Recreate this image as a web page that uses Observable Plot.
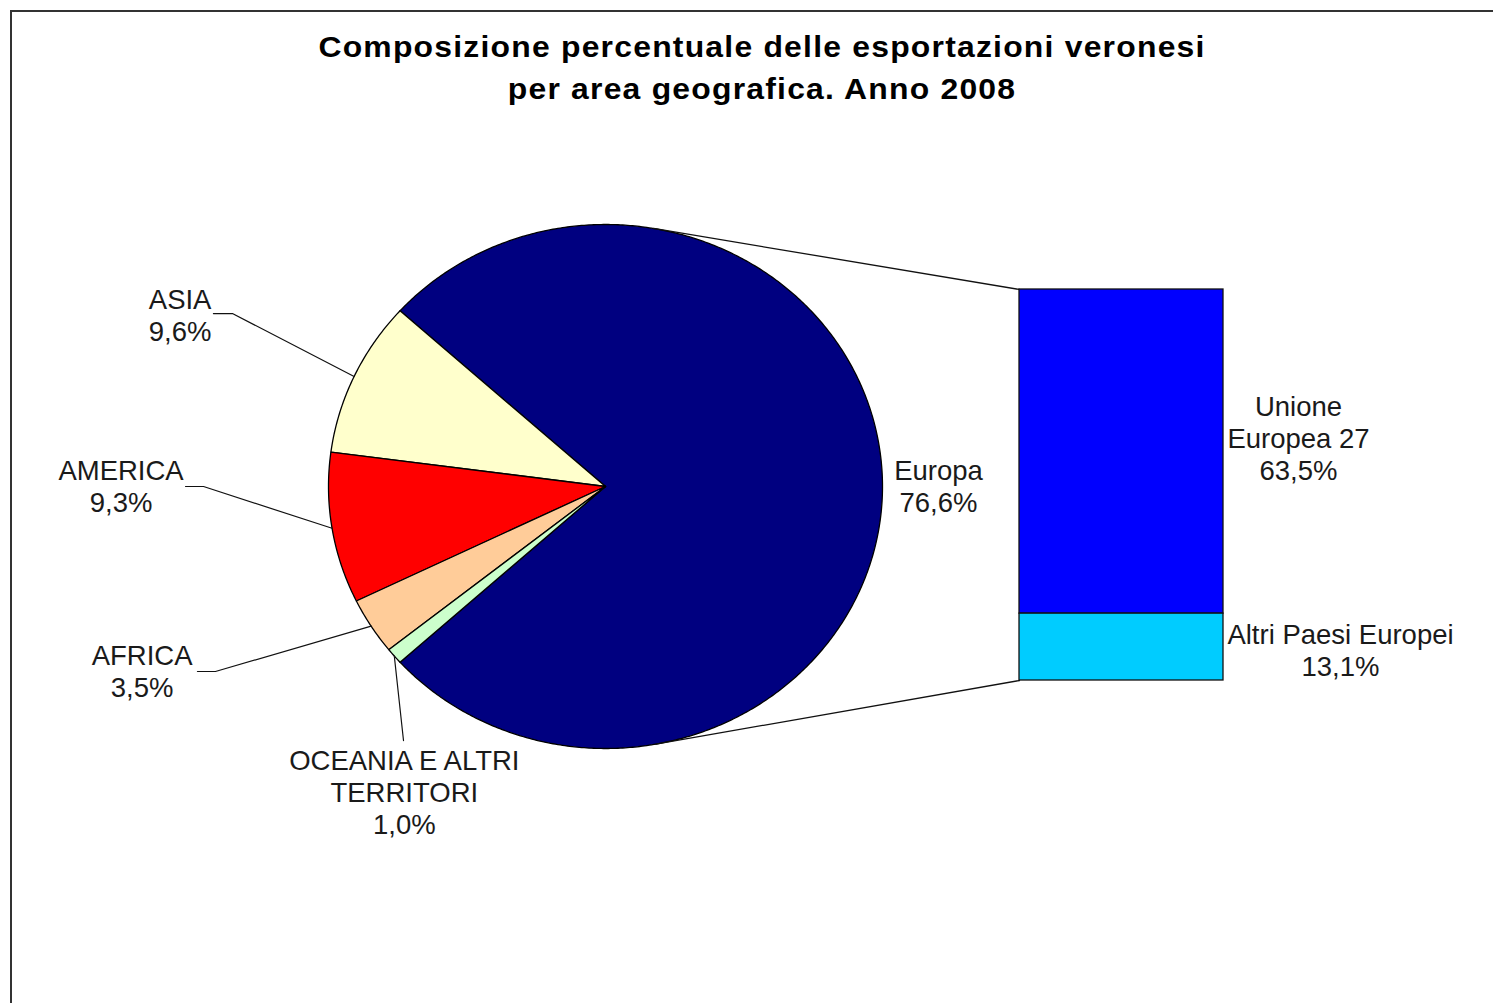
<!DOCTYPE html>
<html><head><meta charset="utf-8">
<script src="https://cdn.jsdelivr.net/npm/d3@7"></script>
<script src="https://cdn.jsdelivr.net/npm/@observablehq/plot@0.6"></script>
<style>
body{margin:0;background:#fff;width:1493px;height:1003px;overflow:hidden;position:relative;font-family:"Liberation Sans",Arial,sans-serif;}
#frame{position:absolute;left:10px;top:10px;width:1600px;height:1100px;border-top:2px solid #333;border-left:2px solid #333;}
#title{position:absolute;left:0;width:1524px;top:26px;text-align:center;font-weight:bold;font-size:29px;letter-spacing:1.1px;line-height:42px;color:#000;transform:scaleX(1.1);transform-origin:762px 0;}
#chart{position:absolute;left:0;top:120px;}
</style></head><body>
<div id="frame"></div>
<div id="title">Composizione percentuale delle esportazioni veronesi<br>per area geografica. Anno 2008</div>
<div id="chart"></div>
<script>
// ---- data ----
const regions = ["Europa", "ASIA", "AMERICA", "AFRICA", "OCEANIA E ALTRI TERRITORI"];
const regionLabels = ["Europa", "ASIA", "AMERICA", "AFRICA", "OCEANIA E ALTRI\nTERRITORI"];
const regionShares = [76.6, 9.6, 9.3, 3.5, 1.0];
const regionColors = ["#000080", "#FFFFCC", "#FF0000", "#FFCC99", "#CCFFCC"];
const europeParts = ["Unione Europea 27", "Altri Paesi Europei"];
const europeLabels = ["Unione\nEuropea 27", "Altri Paesi Europei"];
const europeShares = [63.5, 13.1];
const europeColors = ["#0000FF", "#00CCFF"];

// ---- layout (pixels) ----
const W = 1493, H = 883;
const CX = 605, CY = 366, RX = 277, RY = 262;
const BAR = {x0: 1019, x1: 1223, top: 169, bottom: 560};
// label offsets relative to anchor (px): text centre and leader elbow/end
const regionLabelOff = [
  {tx: 56, ty: -1},
  {tx: -174, ty: -62, ex: -121.7, ey: -62.9, hx: -140.7},
  {tx: -211, ty: -43, ex: -128.5, ey: -41.8, hx: -146.5},
  {tx: -229, ty: 45, ex: -155.7, ey: 45.3, hx: -173.7},
  {tx: 10, ty: 136, ex: 9.2, ey: 84.5, hx: 9.2}
];
const europeLabelOff = [{tx: 75, ty: -14}, {tx: 117, ty: 3}];

const ux = px => px / RX;          // pixel offset -> data units
const uy = py => -py / RY;
const fmt = v => v.toFixed(1).replace(".", ",") + "%";
const rad = d => d * Math.PI / 180;

// ---- pie angles (Excel pie-of-bar: "others" centred on the left) ----
const others = d3.sum(regionShares.slice(1));
let a = 180 - others * 3.6 / 2;
const slices = [];
for (let i = 1; i < regions.length; i++) {
  const a0 = a, a1 = a + regionShares[i] * 3.6;
  slices.push({i, a0, a1});
  a = a1;
}
slices.unshift({i: 0, a0: a, a1: a + regionShares[0] * 3.6});

function slicePoints(s) {
  const pts = [{x: 0, y: 0}];
  const n = Math.max(2, Math.ceil((s.a1 - s.a0) / 0.5));
  for (let k = 0; k <= n; k++) {
    const t = rad(s.a0 + (s.a1 - s.a0) * k / n);
    pts.push({x: Math.cos(t), y: Math.sin(t)});
  }
  pts.push({x: 0, y: 0});
  return pts;
}

// ---- bar ----
const bx0 = ux(BAR.x0 - CX), bx1 = ux(BAR.x1 - CX);
const bTop = (CY - BAR.top) / RY, bBottom = (CY - BAR.bottom) / RY;
const unit = (bTop - bBottom) / d3.sum(europeShares);
let yy = bTop;
const barData = europeParts.map((p, i) => {
  const y1 = yy, y2 = yy - europeShares[i] * unit;
  yy = y2;
  return {name: p, y1, y2, color: europeColors[i]};
});

// ---- connector tangents from bar corners ----
function tangent(px, py, sign) {
  const r = Math.hypot(px, py), phi = Math.atan2(py, px);
  const t = phi + sign * Math.acos(1 / r);
  return {x: Math.cos(t), y: Math.sin(t)};
}
const tTop = tangent(bx0, bTop, 1), tBot = tangent(bx0, bBottom, -1);
const connectors = [
  {g: "top", x: tTop.x, y: tTop.y}, {g: "top", x: bx0, y: bTop},
  {g: "bot", x: tBot.x, y: tBot.y}, {g: "bot", x: bx0, y: bBottom}
];

// ---- labels and leaders ----
const textData = [], leaders = [];
slices.forEach(s => {
  const m = rad((s.a0 + s.a1) / 2);
  const ax = Math.cos(m), ay = Math.sin(m);
  const o = regionLabelOff[s.i];
  textData.push({x: ax + ux(o.tx), y: ay + uy(o.ty), text: regionLabels[s.i] + "\n" + fmt(regionShares[s.i])});
  if (o.ex !== undefined) {
    leaders.push({g: s.i, x: ax, y: ay});
    leaders.push({g: s.i, x: ax + ux(o.ex), y: ay + uy(o.ey)});
    leaders.push({g: s.i, x: ax + ux(o.hx), y: ay + uy(o.ey)});
  }
});
barData.forEach((b, i) => {
  const o = europeLabelOff[i];
  const ay = (b.y1 + b.y2) / 2;
  textData.push({x: bx1 + ux(o.tx), y: ay + uy(o.ty), text: europeLabels[i] + "\n" + fmt(europeShares[i])});
});

const marks = [];
slices.forEach(s => {
  marks.push(Plot.line(slicePoints(s), {x: "x", y: "y", fill: regionColors[s.i], stroke: "#000", strokeWidth: 1.3, curve: "linear"}));
});
marks.push(Plot.line(connectors, {x: "x", y: "y", z: "g", stroke: "#111", strokeWidth: 1.3}));
marks.push(Plot.rect(barData, {x1: () => bx0, x2: () => bx1, y1: "y1", y2: "y2", fill: "color", stroke: "#111", strokeWidth: 1.3}));
marks.push(Plot.line(leaders, {x: "x", y: "y", z: "g", stroke: "#111", strokeWidth: 1.2}));
marks.push(Plot.text(textData, {x: "x", y: "y", text: "text", fontSize: 27.5, lineHeight: 1.164, textAnchor: "middle", lineAnchor: "middle", fill: "#1a1a1a", fontFamily: "Liberation Sans, Arial, sans-serif"}));

const chart = Plot.plot({
  width: W, height: H,
  margin: 0,
  x: {domain: [-CX / RX, (W - CX) / RX], axis: null},
  y: {domain: [-(H - CY) / RY, CY / RY], axis: null},
  color: {type: "identity"},
  style: {background: "transparent", overflow: "visible"},
  marks
});
document.getElementById("chart").appendChild(chart);
</script>
</body></html>
